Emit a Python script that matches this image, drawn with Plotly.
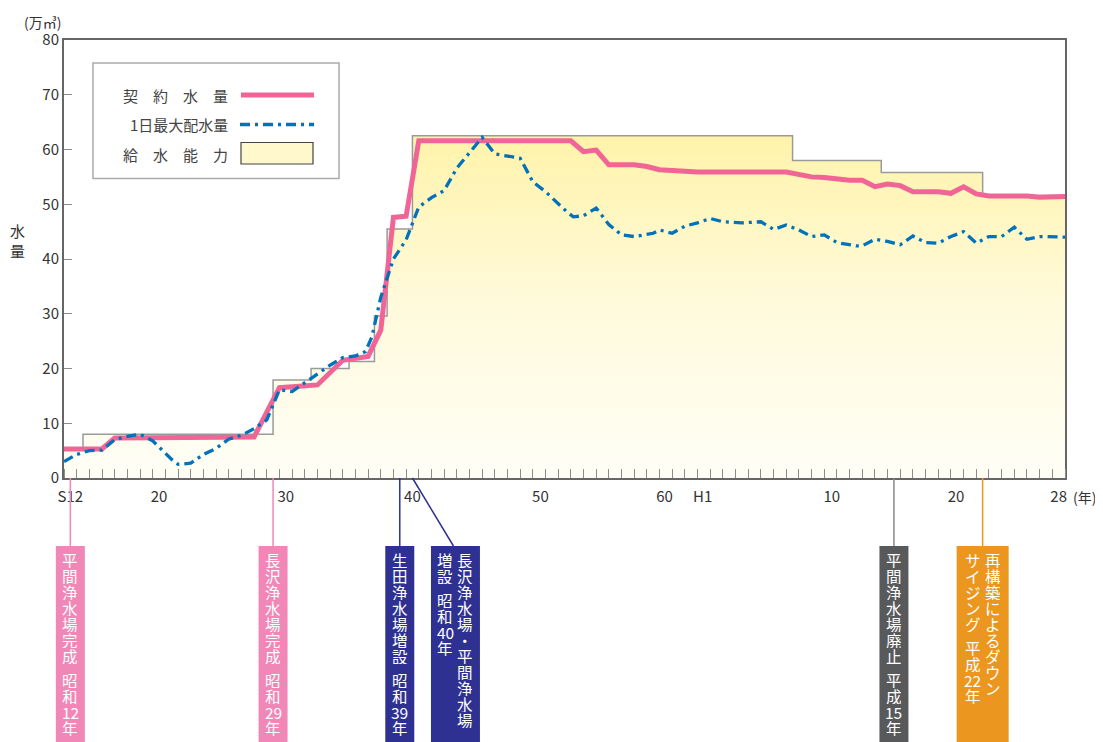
import plotly.graph_objects as go

# 横軸: 昭和通算年の位置 (S12 = 12 ... H1 = 64 ... H28 = 91)
# 給水能力 (万㎥) 階段
cap_x = [12, 13.5, 28.5, 31.5, 34.5, 36.5, 37.5, 39.5, 69.5, 76.5, 84.5, 91]
cap_y = [5.5, 8.0, 17.9, 20.0, 21.3, 29.6, 45.5, 62.5, 58.0, 55.8, 51.6, 51.6]

# 契約水量
contract_x = [12, 15, 16, 27, 29, 32, 34, 36, 37, 38, 39, 40, 52, 53, 54, 55, 57, 58, 59,
              61, 62, 69, 70, 71, 72, 74, 75, 76, 77, 78, 79, 81, 82, 83, 84, 85, 88, 89, 91]
contract_y = [5.3, 5.3, 7.3, 7.5, 16.5, 17.0, 21.5, 22.2, 27.0, 47.6, 47.8, 61.6, 61.6, 59.6,
              59.9, 57.2, 57.2, 56.9, 56.3, 56.1, 55.9, 55.9, 55.5, 55.0, 54.9, 54.4, 54.4,
              53.2, 53.7, 53.4, 52.3, 52.3, 52.0, 53.2, 51.9, 51.5, 51.5, 51.3, 51.4]

# 1日最大配水量
maxflow_x = [12, 13, 14, 15, 16, 17, 18, 19, 20.5, 21, 22, 23, 24, 25, 26, 27, 28, 29, 30,
             30.5, 31.4, 33, 34, 35, 35.8, 36.3, 37, 38, 39, 40, 41, 42, 43, 45, 46, 48, 49,
             50, 51.7, 52.2, 53, 54, 55, 56, 57, 58.5, 59, 60, 61, 62, 63, 64, 65.5, 67, 68,
             69, 70, 71, 72, 73, 74.5, 75, 76, 77, 78, 79, 80, 81, 82, 83, 84, 85, 86, 87,
             88, 89, 91]
maxflow_y = [3.0, 4.3, 5.0, 5.1, 7.0, 7.6, 8.0, 6.8, 3.4, 2.5, 2.7, 4.3, 5.4, 7.1, 7.8, 9.0,
             10.6, 16.1, 15.8, 16.6, 18.2, 20.6, 22.0, 22.3, 23.1, 25.8, 33.0, 40.0, 43.5,
             49.5, 51.2, 52.5, 56.6, 62.2, 59.2, 58.4, 54.1, 52.3, 48.6, 47.7, 47.9, 49.3,
             46.3, 44.4, 44.1, 44.7, 45.3, 44.7, 46.0, 46.6, 47.4, 46.8, 46.6, 46.8, 45.4,
             46.2, 45.3, 44.1, 44.4, 43.0, 42.4, 42.4, 43.6, 43.2, 42.6, 44.2, 43.0, 42.9,
             44.1, 45.0, 42.9, 44.1, 44.1, 45.8, 43.6, 44.1, 44.0]

tick_pos = [12.5, 19.5, 29.5, 39.5, 49.6, 59.4, 62.4, 72.6, 82.4, 90.5]
tick_text = ['S12', '20', '30', '40', '50', '60', 'H1', '10', '20', '28']

# 出来事
event_pos = [12.5, 28.5, 38.5, 39.5, 77.5, 84.5]
event_text = [
    ['平間浄水場完成 昭和12年'],
    ['長沢浄水場完成 昭和29年'],
    ['生田浄水場増設 昭和39年'],
    ['長沢浄水場・平間浄水場', '増設 昭和40年'],
    ['平間浄水場廃止 平成15年'],
    ['再構築によるダウン', 'サイジング 平成22年'],
]

PINK = '#f06496'
BLUE = '#0072bc'
FONT = 'Noto Sans CJK JP'

# ページ本体の余白 (8px) を差し引いた図のサイズ
OFF = 8
W, H = 1103 - OFF, 742 - OFF
L, R, T, B = 64 - OFF, 38, 40 - OFF, 264
PW = W - L - R
PH = H - T - B
X0, X1 = 12, 91
AXIS_Y = 478  # 画面上の横軸の位置


def pxx(px):
    # 画面上の x ピクセル -> paper 座標
    return (px - OFF - L) / PW


def pxy(py):
    return (AXIS_Y - py) / PH


def pos2px(p):
    return 64 + (p - X0) / (X1 - X0) * PW


fig = go.Figure()

fig.add_trace(go.Scatter(
    x=cap_x, y=cap_y, mode='lines', line_shape='hv',
    line=dict(color='#9a9a9a', width=1.5),
    fill='tozeroy',
    fillgradient=dict(type='vertical', start=0, stop=62.5,
                      colorscale=[[0, '#fffef6'], [0.5, '#fffadc'], [1, '#fff3aa']]),
    showlegend=False, hoverinfo='skip'
))
fig.add_trace(go.Scatter(
    x=contract_x, y=contract_y, mode='lines',
    line=dict(color=PINK, width=5),
    showlegend=False
))
fig.add_trace(go.Scatter(
    x=maxflow_x, y=maxflow_y, mode='lines',
    line=dict(color=BLUE, width=3.3, dash='10px,5px,3px,5px'),
    showlegend=False
))

shapes = []
annotations = []

# 凡例
shapes.append(dict(type='rect', xref='paper', yref='paper',
                   x0=pxx(93), x1=pxx(339), y0=pxy(63), y1=pxy(178.5),
                   line=dict(color='#aaaaaa', width=1.5), fillcolor='white'))
shapes.append(dict(type='line', xref='paper', yref='paper',
                   x0=pxx(241), x1=pxx(314), y0=pxy(95), y1=pxy(95),
                   line=dict(color=PINK, width=5)))
shapes.append(dict(type='line', xref='paper', yref='paper',
                   x0=pxx(240), x1=pxx(314), y0=pxy(124.5), y1=pxy(124.5),
                   line=dict(color=BLUE, width=3.3, dash='10px,5px,3px,5px')))
shapes.append(dict(type='rect', xref='paper', yref='paper',
                   x0=pxx(241), x1=pxx(313), y0=pxy(142.5), y1=pxy(164),
                   line=dict(color='#444444', width=1.2), fillcolor='#fff8cc'))
for label, py in [('契　約　水　量', 95), ('1日最大配水量', 124.5), ('給　水　能　力', 154)]:
    annotations.append(dict(xref='paper', yref='paper', x=pxx(230), y=pxy(py),
                            text=label, showarrow=False, xanchor='right', yanchor='middle',
                            font=dict(family=FONT, size=15, color='#444444')))

# 出来事ボックス
box_fill = ['#f087b6', '#f087b6', '#2e3192', '#2e3192', '#58595b', '#ea961f']
line_col = ['#f087b6', '#f087b6', '#2e3192', '#2e3192', '#8a8a8a', '#ea961f']
box_shift = [0, 0, 0, 43, 0, 0]
box_width = [29, 29, 29, 49, 29, 52]
BOX_TOP = 546
PITCH = 16.0


def tokens(s):
    out = []
    buf = ''
    for ch in s:
        if ch.isdigit():
            buf += ch
            continue
        if buf:
            out.append(buf)
            buf = ''
        out.append(ch)
    if buf:
        out.append(buf)
    return out


for i, p in enumerate(event_pos):
    ex = pos2px(p)
    cx = ex + box_shift[i]
    bw = box_width[i]
    shapes.append(dict(type='rect', xref='paper', yref='paper',
                       x0=pxx(cx - bw / 2), x1=pxx(cx + bw / 2),
                       y0=pxy(BOX_TOP), y1=pxy(750),
                       line=dict(width=0), fillcolor=box_fill[i]))
    shapes.append(dict(type='line', xref='paper', yref='paper',
                       x0=pxx(ex), x1=pxx(cx - 2 if box_shift[i] else ex),
                       y0=pxy(AXIS_Y), y1=pxy(BOX_TOP),
                       line=dict(color=line_col[i], width=1.5)))
    cols = event_text[i]
    if len(cols) == 1:
        col_x = [cx]
    else:
        col_x = [cx + 10, cx - 10]
    for txt, colx in zip(cols, col_x):
        y = 560
        for tk in tokens(txt):
            if tk == ' ':
                y += PITCH / 2
                continue
            annotations.append(dict(xref='paper', yref='paper', x=pxx(colx), y=pxy(y),
                                    text=tk, showarrow=False, xanchor='center',
                                    yanchor='middle', height=PITCH,
                                    font=dict(family=FONT, size=15.5, color='white')))
            y += PITCH

# 軸まわりの文字
annotations.append(dict(xref='paper', yref='paper', x=pxx(42), y=pxy(22),
                        text='(万㎥)', showarrow=False, xanchor='center', yanchor='middle',
                        font=dict(family=FONT, size=14, color='#333333')))
annotations.append(dict(xref='paper', yref='paper', x=pxx(17), y=pxy(240),
                        text='水<br>量', showarrow=False, xanchor='center', yanchor='middle',
                        font=dict(family=FONT, size=15, color='#333333')))
annotations.append(dict(xref='paper', yref='paper', x=pxx(1084), y=pxy(497),
                        text='(年)', showarrow=False, xanchor='center', yanchor='middle',
                        font=dict(family=FONT, size=14, color='#333333')))

fig.update_layout(
    width=W, height=H,
    margin=dict(l=L, r=R, t=T, b=B, autoexpand=False),
    paper_bgcolor='white', plot_bgcolor='white',
    font=dict(family=FONT, size=15, color='#333333'),
    shapes=shapes,
    annotations=annotations,
    showlegend=False,
)
fig.update_xaxes(
    range=[X0, X1], showgrid=False, zeroline=False,
    showline=True, linecolor='#666666', linewidth=2, mirror=True,
    tickmode='array', tickvals=tick_pos, ticktext=tick_text, ticks='',
    ticklabelstandoff=4,
    tickfont=dict(size=15, color='#333333'),
    minor=dict(ticks='inside', ticklen=9, tickcolor='#8c8c8c', tickwidth=1.2,
               tick0=12, dtick=1, showgrid=False),
)
fig.update_yaxes(
    range=[0, 80], showgrid=False, zeroline=False,
    showline=True, linecolor='#666666', linewidth=2, mirror=True,
    tickvals=list(range(0, 81, 10)), ticks='inside', ticklen=8,
    tickcolor='#8c8c8c', tickwidth=1.2,
    tickfont=dict(size=15, color='#333333'),
)

fig.write_html("out.html")
